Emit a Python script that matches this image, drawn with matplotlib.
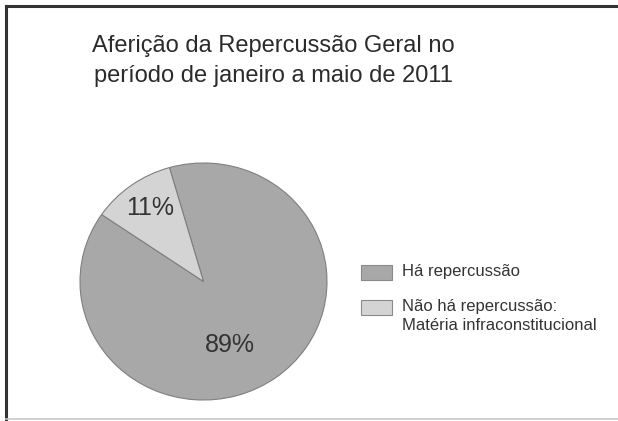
import matplotlib
matplotlib.use("Agg")
import matplotlib.pyplot as plt
from matplotlib.lines import Line2D
from matplotlib.patches import Rectangle

plt.rcParams["font.family"] = ["Liberation Sans", "DejaVu Sans"]

title = "Aferição da Repercussão Geral no\nperíodo de janeiro a maio de 2011"
categories = ["Há repercussão", "Não há repercussão:\nMatéria infraconstitucional"]
shares = [89, 11]
colors = ["#a8a8a8", "#d4d4d4"]

W, H = 618, 421
fig = plt.figure(figsize=(W / 100, H / 100), dpi=100)
fig.patch.set_facecolor("white")

# frame: dark on left/top, faint line at bottom
fig.add_artist(Line2D([6 / W, 6 / W], [2 / H, 1 - 6 / H], color="#333333", lw=2.2))
fig.add_artist(Line2D([6 / W, 1], [1 - 6 / H, 1 - 6 / H], color="#333333", lw=2.2))
fig.add_artist(Line2D([6 / W, 1], [2 / H, 2 / H], color="#c8c8c8", lw=1.2))

fig.text(273 / W, 1 - 61 / H, title, ha="center", va="center",
         fontsize=17, color="#2b2b2b", linespacing=1.42)

# pie is slightly wider than tall in the source image
cx, cy, rx, ry = 203.5, 281.5, 123.5, 118.5
ax = fig.add_axes([(cx - rx) / W, (H - cy - ry) / H, 2 * rx / W, 2 * ry / H])
wedges, _, autotexts = ax.pie(
    shares, colors=colors, startangle=106, counterclock=False,
    autopct="%d%%", pctdistance=0.6,
    wedgeprops=dict(edgecolor="#7f7f7f", linewidth=0.8),
    textprops=dict(fontsize=18, color="#333333"),
)
autotexts[0].set_position((0.215, -0.54))
autotexts[1].set_position((-0.43, 0.62))
ax.set_xlim(-1.0, 1.0)
ax.set_ylim(-1.0, 1.0)
ax.set_aspect("auto")
ax.axis("off")

# legend: swatch + label, first text line level with the swatch
for i, (lab, col) in enumerate(zip(categories, colors)):
    top = 265 + i * 35
    fig.add_artist(Rectangle((361 / W, 1 - (top + 15) / H), 31 / W, 15 / H,
                             facecolor=col, edgecolor="#8a8a8a", lw=0.8))
    fig.text(402 / W, 1 - (top - 1) / H, lab, ha="left", va="top",
             fontsize=12, color="#333333", linespacing=1.3)

fig.savefig("out.png", dpi=100, facecolor="white")
